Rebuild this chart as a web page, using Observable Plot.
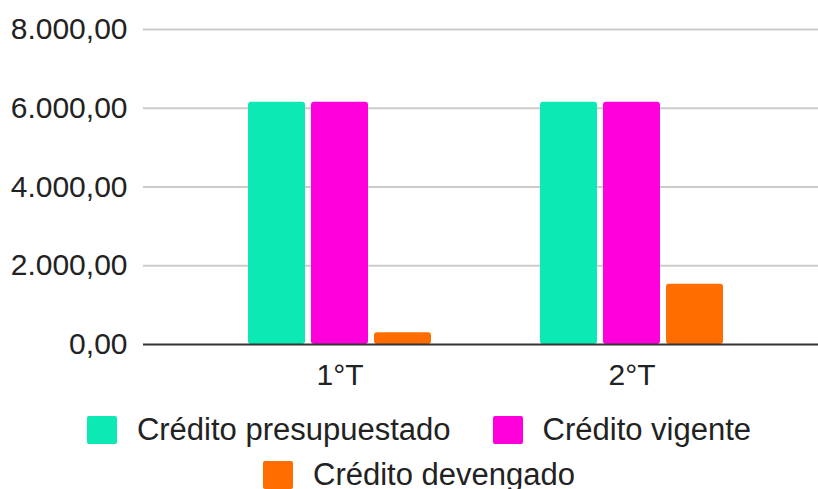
<!DOCTYPE html>
<html>
<head>
<meta charset="utf-8">
<script src="https://cdn.jsdelivr.net/npm/d3@7"></script>
<script src="https://cdn.jsdelivr.net/npm/@observablehq/plot@0.6"></script>
<style>
  body { margin: 0; background: #fff; font-family: "Liberation Sans", Arial, sans-serif; }
  #legend { width: 700px; margin-left: 69px; display: flex; flex-wrap: wrap; justify-content: center; column-gap: 42px; row-gap: 9px; margin-top: 12px; }
  .item { display: flex; align-items: center; font-size: 31px; color: #222; height: 36px; line-height: 36px; }
  .sw { width: 30px; height: 28px; border-radius: 2px; margin-right: 20px; }
</style>
</head>
<body>
<div id="chart"></div>
<div id="legend"></div>
<script>
const quarters = ["1°T", "2°T"];
const series = ["Crédito presupuestado", "Crédito vigente", "Crédito devengado"];
const presupuestado = [6150, 6150];
const vigente = [6150, 6150];
const devengado = [300, 1530];
const colors = ["#0de9b4", "#ff00dd", "#ff6d00"];
const yTicks = [0, 2000, 4000, 6000, 8000];

const values = [presupuestado, vigente, devengado];
const fmt = d3.formatLocale({decimal: ",", thousands: ".", grouping: [3], currency: ["", ""]}).format(",.2f");

const barW = 58, gap = 5;
const marks = [
  Plot.ruleY(yTicks.filter(d => d > 0), {stroke: "#cccccc", strokeWidth: 2})
];
values.forEach((vals, i) => {
  const data = quarters.map((q, j) => ({quarter: q, value: vals[j]}));
  marks.push(Plot.barY(data, {
    x: "quarter", y: "value", fill: colors[i], rx: 3,
    insetLeft: i * (barW + gap), insetRight: (2 - i) * (barW + gap)
  }));
});
marks.push(Plot.ruleY([0], {stroke: "#333", strokeWidth: 2}));

const chart = Plot.plot({
  width: 818, height: 400,
  marginTop: 29, marginBottom: 56, marginLeft: 143, marginRight: 0,
  style: {fontFamily: "Liberation Sans, Arial, sans-serif", fontSize: "30px", color: "#222", background: "#fff"},
  x: {domain: quarters, paddingInner: 0.372, paddingOuter: 0.338, align: 0.525, tickSize: 0, tickPadding: 19, label: null},
  y: {domain: [0, 8000], ticks: yTicks, tickFormat: fmt, tickSize: 0, tickPadding: 16, label: null},
  marks
});
document.getElementById("chart").appendChild(chart);

const legend = document.getElementById("legend");
series.forEach((s, i) => {
  const it = document.createElement("div");
  it.className = "item";
  const sw = document.createElement("span");
  sw.className = "sw";
  sw.style.background = colors[i];
  const t = document.createElement("span");
  t.textContent = s;
  it.appendChild(sw); it.appendChild(t);
  legend.appendChild(it);
});
</script>
</body>
</html>
